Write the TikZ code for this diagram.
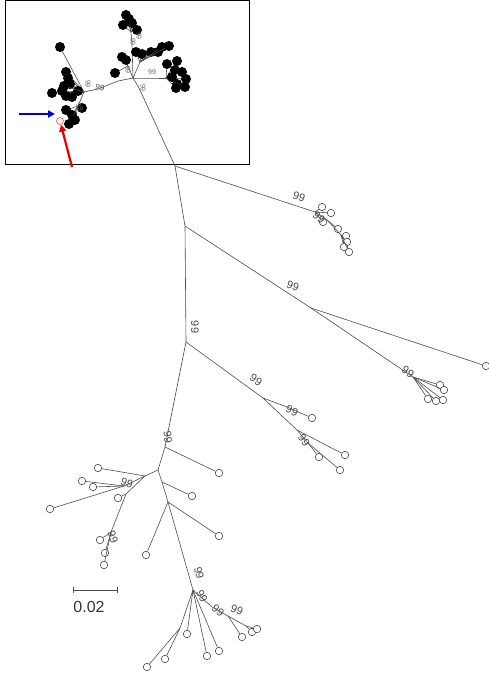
\documentclass[tikz,border=0pt]{standalone}
\usepackage{fontspec}
\setmainfont{Liberation Sans}
\usetikzlibrary{arrows.meta}

\begin{document}
\begin{tikzpicture}[
    x=1pt, y=-1pt,
    edge/.style={draw=black!70, line width=0.6pt},
    leaf/.style={circle, draw=black!70, fill=white, line width=0.6pt, inner sep=0pt, minimum size=7.5pt},
    dot/.style={circle, fill=black, inner sep=0pt, minimum size=10pt},
    boot/.style={font=\fontsize{11}{11}\selectfont, text=black!70, inner sep=0pt},
    tinyboot/.style={font=\fontsize{7}{7}\selectfont, text=black!60, inner sep=0pt},
    arrow/.style={-{Triangle[length=7pt,width=7pt]}, line width=2.2pt}
]
    \useasboundingbox (0,0) rectangle (489,674);

    % Inset frame
    \draw[line width=1pt] (5,1) rectangle (249,164);

    % Junctions of the main tree
    \coordinate (j1) at (175,166);
    \coordinate (j2) at (185,226);
    \coordinate (j3) at (186,342);
    \coordinate (j4a) at (165,447);
    \coordinate (j4) at (158,470);
    \coordinate (j5) at (145,476);
    \coordinate (j5b) at (124,486);
    \coordinate (j10) at (126,494);
    \coordinate (j11) at (111,532);
    \coordinate (j6a) at (162,482);
    \coordinate (j6) at (168,502);
    \coordinate (j7) at (193,590);
    \coordinate (j7b) at (180,628);
    \coordinate (c1) at (212,607);
    \coordinate (c2) at (228,616);
    \coordinate (c3) at (246,626);
    \coordinate (j8) at (263,398);
    \coordinate (j8a) at (287,407);
    \coordinate (j9) at (297,430);
    \coordinate (j9a) at (308,443);
    \coordinate (sR) at (311,308);
    \coordinate (jR) at (413,377);
    \coordinate (jT) at (315,212);
    \coordinate (jT2) at (327,220);
    \coordinate (jT3) at (341,235);

    % Leaves
    \node[leaf] (tA) at (322,207) {};
    \node[leaf] (tB) at (331,213) {};
    \node[leaf] (tC) at (323,222) {};
    \node[leaf] (tD) at (338,229) {};
    \node[leaf] (tE) at (346,236) {};
    \node[leaf] (tF) at (347,242) {};
    \node[leaf] (tG) at (344,247) {};
    \node[leaf] (tH) at (349,252) {};
    \node[leaf] (rLong) at (486,366) {};
    \node[leaf] (rA) at (440,385) {};
    \node[leaf] (rB) at (444,390) {};
    \node[leaf] (rC) at (428,399) {};
    \node[leaf] (rD) at (436,401) {};
    \node[leaf] (rE) at (443,400) {};
    \node[leaf] (mA) at (312,418) {};
    \node[leaf] (mB) at (345,455) {};
    \node[leaf] (mC) at (319,457) {};
    \node[leaf] (mD) at (340,470) {};
    \node[leaf] (bA) at (219,473) {};
    \node[leaf] (bB) at (98,468) {};
    \node[leaf] (bC) at (82,481) {};
    \node[leaf] (bD) at (93,487) {};
    \node[leaf] (bE) at (50,509) {};
    \node[leaf] (bF) at (118,498) {};
    \node[leaf] (bG) at (100,540) {};
    \node[leaf] (bH) at (105,553) {};
    \node[leaf] (bI) at (104,565) {};
    \node[leaf] (bJ) at (192,496) {};
    \node[leaf] (bK) at (219,536) {};
    \node[leaf] (bL) at (146,555) {};
    \node[leaf] (fA) at (147,667) {};
    \node[leaf] (fB) at (165,659) {};
    \node[leaf] (fC) at (187,634) {};
    \node[leaf] (fD) at (207,656) {};
    \node[leaf] (fE) at (219,651) {};
    \node[leaf] (fF) at (242,637) {};
    \node[leaf] (fG) at (252,632) {};
    \node[leaf] (fH) at (257,629) {};

    % Branches
    \draw[edge] (j1) -- (j2) -- (j3) -- (j4a) -- (j4) -- (j6a) -- (j6) -- (j7);
    \draw[edge] (j1) -- (jT) -- (tA);
    \draw[edge] (jT) -- (tB);
    \draw[edge] (jT) -- (tC);
    \draw[edge] (jT) -- (jT2) -- (tD);
    \draw[edge] (jT2) -- (jT3) -- (tE);
    \draw[edge] (jT3) -- (tF);
    \draw[edge] (jT3) -- (tG);
    \draw[edge] (jT3) -- (tH);
    \draw[edge] (j2) -- (sR) -- (rLong);
    \draw[edge] (sR) -- (jR) -- (rA);
    \draw[edge] (jR) -- (rB);
    \draw[edge] (jR) -- (rC);
    \draw[edge] (jR) -- (rD);
    \draw[edge] (jR) -- (rE);
    \draw[edge] (j3) -- (j8) -- (j8a) -- (mA);
    \draw[edge] (j8) -- (j9) -- (mB);
    \draw[edge] (j9) -- (j9a) -- (mC);
    \draw[edge] (j9a) -- (mD);
    \draw[edge] (j4a) -- (bA);
    \draw[edge] (j4) -- (j5) -- (bB);
    \draw[edge] (j5) -- (j5b) -- (bC);
    \draw[edge] (j5b) -- (bD);
    \draw[edge] (j5b) -- (bE);
    \draw[edge] (j5) -- (j10) -- (bF);
    \draw[edge] (j10) -- (j11) -- (bG);
    \draw[edge] (j11) -- (bH);
    \draw[edge] (j11) -- (bI);
    \draw[edge] (j6a) -- (bJ);
    \draw[edge] (j6) -- (bK);
    \draw[edge] (j6) -- (bL);
    \draw[edge] (j7) -- (j7b) -- (fA);
    \draw[edge] (j7b) -- (fB);
    \draw[edge] (j7) -- (fC);
    \draw[edge] (j7) -- (fD);
    \draw[edge] (j7) -- (fE);
    \draw[edge] (j7) -- (c1) -- (c2) -- (fF);
    \draw[edge] (c2) -- (c3) -- (fG);
    \draw[edge] (c3) -- (fH);

    % Bootstrap values
    \node[boot, rotate=-18] (bs1) at (299,197) {99};
    \node[boot, rotate=-40] (bs2) at (319,218) {99};
    \node[boot, rotate=-20] (bs3) at (293,286) {99};
    \node[boot, rotate=-33] (bs4) at (408,372) {99};
    \node[boot, rotate=-90] (bs5) at (195,327) {99};
    \node[boot, rotate=-33] (bs6) at (256,380) {99};
    \node[boot, rotate=-25] (bs7) at (292,411) {99};
    \node[boot, rotate=-55] (bs8) at (304,440) {99};
    \node[boot, rotate=-85] (bs9) at (168,437) {99};
    \node[boot, rotate=-20] (bs10) at (127,483) {99};
    \node[boot, rotate=-70] (bs11) at (113,537) {99};
    \node[boot, rotate=-75] (bs12) at (199,573) {99};
    \node[boot, rotate=-65] (bs13) at (202,596) {99};
    \node[boot, rotate=-40] (bs14) at (218,611) {99};
    \node[boot, rotate=-20] (bs15) at (237,610) {99};

    % Inset tree
    \coordinate (H) at (133,78);
    \coordinate (H2) at (139,88);
    \coordinate (A1) at (118,81);
    \coordinate (A2) at (98,89);
    \coordinate (LC) at (84,92);
    \coordinate (LL) at (78,106);
    \coordinate (T1) at (132,44);
    \coordinate (TC) at (131,32);
    \coordinate (M1) at (140,62);
    \coordinate (ML) at (128,66);
    \coordinate (R1) at (152,78);
    \coordinate (RC) at (166,78);
    \draw[edge] (H) -- (H2) -- (j1);
    \draw[edge] (H) -- (A1) -- (A2) -- (LC) -- (LL);
    \draw[edge] (H) -- (T1) -- (TC);
    \draw[edge] (H) -- (M1);
    \draw[edge] (H) -- (ML);
    \draw[edge] (H) -- (R1) -- (RC);

    \foreach \px/\py [count=\i] in {60/47, 66/72, 68/78, 70/84, 52/93, 62/91, 66/96, 72/97, 78/91, 64/86}
        \draw[edge] (LC) -- (\px,\py) node[dot] (lc\i) {};
    \foreach \px/\py [count=\i] in {66/110, 72/115, 82/108, 69/124, 75/120}
        \draw[edge] (LL) -- (\px,\py) node[dot] (ll\i) {};
    \foreach \px/\py [count=\i] in {126/15, 123/25, 132/23, 137/30, 129/19}
        \draw[edge] (TC) -- (\px,\py) node[dot] (tc\i) {};
    \foreach \px/\py [count=\i] in {136/52, 142/54, 151/52, 158/52, 162/47, 169/46}
        \draw[edge] (M1) -- (\px,\py) node[dot] (mc\i) {};
    \foreach \px/\py [count=\i] in {122/57, 126/60, 115/73}
        \draw[edge] (ML) -- (\px,\py) node[dot] (ml\i) {};
    \foreach \px/\py [count=\i] in {167/64, 177/61, 175/70, 182/72, 186/79, 177/84, 185/87, 172/77, 176/88}
        \draw[edge] (RC) -- (\px,\py) node[dot] (rc\i) {};

    % Inset bootstrap values
    \node[boot, font=\fontsize{8}{8}\selectfont, rotate=-10] (ib1) at (100,88) {99};
    \node[tinyboot, rotate=-90] (ib2) at (88,84) {99};
    \node[tinyboot, rotate=-90] (ib3) at (128,70) {99};
    \node[tinyboot, rotate=-90] (ib4) at (143,88) {99};
    \node[tinyboot] (ib5) at (152,72) {99};
    \node[tinyboot, rotate=-90] (ib6) at (133,42) {99};
    \node[tinyboot, rotate=-90] (ib7) at (139,36) {99};
    \node[tinyboot, rotate=-60] (ib8) at (80,107) {99};

    % Highlighted isolate and arrows
    \node[circle, draw=red!70, fill=white, line width=0.6pt, inner sep=0pt, minimum size=7pt] (iso) at (60,121) {};
    \coordinate (blueStart) at (19,114);
    \coordinate (redStart) at (72,167);
    \draw[arrow, blue!85!black] (blueStart) -- (55,114);
    \draw[arrow, red!90!black] (redStart) -- (iso);

    % Scale bar
    \coordinate (sbL) at (73,590);
    \coordinate (sbR) at (117,590);
    \draw[edge] (sbL) -- (sbR);
    \draw[edge] ([yshift=-3pt]sbL) -- ([yshift=3pt]sbL);
    \draw[edge] ([yshift=-3pt]sbR) -- ([yshift=3pt]sbR);
    \node[font=\fontsize{16}{16}\selectfont, text=black!80] (sbText) at (89,607) {0.02};
\end{tikzpicture}
\end{document}
